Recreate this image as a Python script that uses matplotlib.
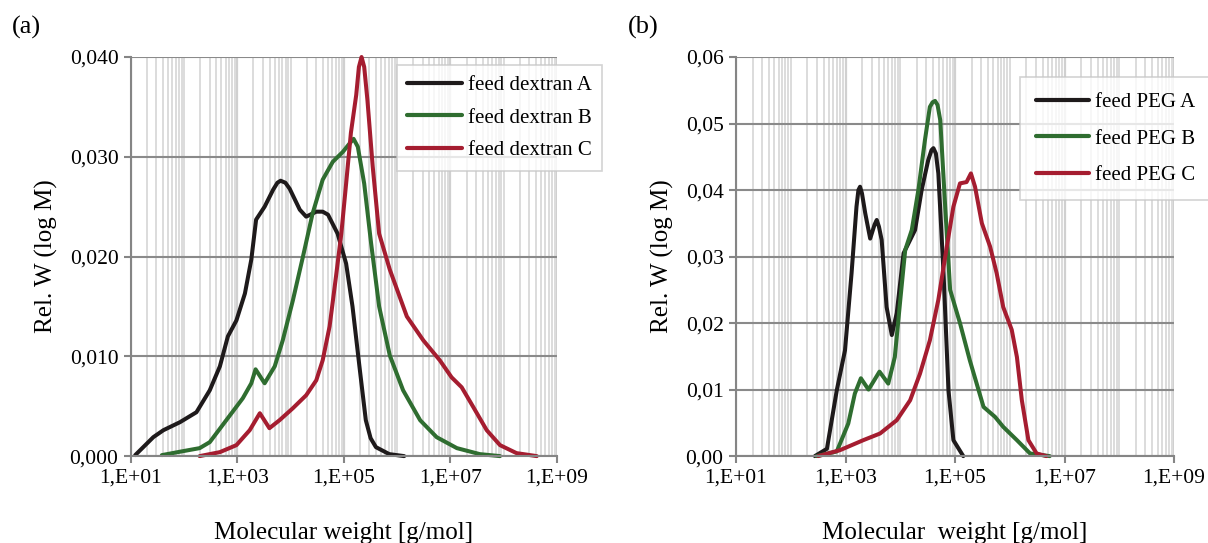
import numpy as np
import matplotlib
matplotlib.use("Agg")
import matplotlib.pyplot as plt
from matplotlib.ticker import LogLocator, FixedLocator, FuncFormatter, NullFormatter

plt.rcParams['font.family'] = ['Liberation Serif', 'DejaVu Serif']

# panel (a): dextran feeds, log10(M) and Rel. W
dexA_logm = [1.08, 1.42, 1.61, 1.92, 2.23, 2.48, 2.67, 2.82, 2.98, 3.14, 3.26, 3.35, 3.51, 3.67,
             3.75, 3.81, 3.90, 3.98, 4.17, 4.29, 4.48, 4.60, 4.70, 4.88, 5.04, 5.16, 5.29, 5.41,
             5.50, 5.60, 5.85, 6.13]
dexA_w = [0.0001, 0.0019, 0.0026, 0.0034, 0.0044, 0.0066, 0.0090, 0.0120, 0.0136, 0.0163, 0.0197,
          0.0237, 0.0250, 0.0267, 0.0274, 0.0276, 0.0274, 0.0268, 0.0247, 0.0240, 0.0245, 0.0245,
          0.0242, 0.0223, 0.0193, 0.0150, 0.0090, 0.0036, 0.0018, 0.0009, 0.0002, 0.0]

dexB_logm = [1.58, 1.98, 2.29, 2.48, 2.79, 3.10, 3.26, 3.34, 3.51, 3.70, 3.85, 4.04, 4.23, 4.41,
             4.60, 4.79, 4.98, 5.10, 5.18, 5.26, 5.38, 5.51, 5.66, 5.86, 6.11, 6.43, 6.74, 7.12,
             7.55, 7.93]
dexB_w = [0.0001, 0.0005, 0.0008, 0.0014, 0.0036, 0.0058, 0.0073, 0.0087, 0.0073, 0.0090, 0.0116,
          0.0156, 0.0200, 0.0243, 0.0277, 0.0295, 0.0305, 0.0313, 0.0318, 0.0310, 0.0273, 0.0213,
          0.0150, 0.0101, 0.0066, 0.0036, 0.0019, 0.0008, 0.0002, 0.0]

dexC_logm = [2.29, 2.67, 2.98, 3.23, 3.42, 3.60, 3.79, 4.04, 4.29, 4.48, 4.60, 4.73, 4.85, 4.95,
             5.04, 5.13, 5.23, 5.28, 5.33, 5.38, 5.44, 5.54, 5.66, 5.86, 6.18, 6.49, 6.80, 7.02,
             7.21, 7.43, 7.68, 7.93, 8.24, 8.62]
dexC_w = [0.0, 0.0004, 0.0011, 0.0026, 0.0043, 0.0028, 0.0036, 0.0048, 0.0061, 0.0076, 0.0096,
          0.0130, 0.0180, 0.0223, 0.0273, 0.0324, 0.0362, 0.0390, 0.0400, 0.0390, 0.0357, 0.0290,
          0.0223, 0.0187, 0.0140, 0.0116, 0.0096, 0.0079, 0.0069, 0.0049, 0.0026, 0.0011, 0.0003, 0.0]

# panel (b): PEG feeds
pegA_logm = [2.44, 2.66, 2.84, 2.99, 3.11, 3.20, 3.235, 3.265, 3.30, 3.36, 3.45, 3.53, 3.57,
             3.61, 3.66, 3.75, 3.845, 3.935, 4.06, 4.18, 4.27, 4.39, 4.51, 4.57, 4.605, 4.65,
             4.695, 4.79, 4.88, 4.97, 5.15]
pegA_w = [0.0, 0.0011, 0.0099, 0.0159, 0.0275, 0.0375, 0.0400, 0.0405, 0.0395, 0.0365, 0.0327,
          0.0348, 0.0355, 0.0345, 0.0325, 0.0224, 0.0182, 0.0215, 0.0305, 0.0325, 0.0340, 0.0400,
          0.0445, 0.0460, 0.0463, 0.0455, 0.0425, 0.0275, 0.0099, 0.0024, 0.0]

pegB_logm = [2.47, 2.84, 3.05, 3.17, 3.28, 3.42, 3.62, 3.78, 3.90, 4.00, 4.09, 4.21, 4.33, 4.45,
             4.54, 4.59, 4.635, 4.68, 4.73, 4.82, 4.91, 5.09, 5.27, 5.52, 5.73, 5.88, 6.13, 6.37,
             6.73]
pegB_w = [0.0, 0.0007, 0.0049, 0.0094, 0.0117, 0.0100, 0.0127, 0.0109, 0.0149, 0.0235, 0.0310,
          0.0340, 0.0400, 0.0475, 0.0525, 0.0532, 0.0534, 0.0528, 0.0505, 0.0375, 0.0250, 0.0200,
          0.0144, 0.0074, 0.0059, 0.0044, 0.0024, 0.0004, 0.0]

pegC_logm = [2.50, 2.90, 3.325, 3.63, 3.935, 4.18, 4.36, 4.54, 4.695, 4.85, 4.97, 5.09, 5.21,
             5.29, 5.365, 5.49, 5.64, 5.76, 5.88, 6.035, 6.13, 6.22, 6.34, 6.49, 6.67]
pegC_w = [0.0, 0.0009, 0.0024, 0.0034, 0.0054, 0.0084, 0.0124, 0.0174, 0.0235, 0.0315, 0.0375,
          0.0410, 0.0412, 0.0425, 0.0405, 0.0350, 0.0315, 0.0275, 0.0224, 0.0190, 0.0149, 0.0084,
          0.0024, 0.0004, 0.0]

colors = ['#1e1a1b', '#2f6d30', '#a51d30']


def style_axes(ax, ymax, ystep, ydigits):
    ax.set_xscale('log')
    ax.set_xlim(1e1, 1e9)
    ax.set_ylim(0, ymax)
    ax.xaxis.set_major_locator(FixedLocator([1e1, 1e3, 1e5, 1e7, 1e9]))
    ax.xaxis.set_minor_locator(LogLocator(base=10, subs=np.arange(1, 10), numticks=50))
    ax.xaxis.set_major_formatter(FuncFormatter(lambda v, p: '1,E+%02d' % round(np.log10(v))))
    ax.xaxis.set_minor_formatter(NullFormatter())
    ax.set_yticks(np.arange(0, ymax + ystep / 2, ystep))
    ax.yaxis.set_major_formatter(FuncFormatter(
        lambda v, p: ('%.*f' % (ydigits, v)).replace('.', ',')))
    ax.grid(True, which='minor', axis='x', color='#d9d9d9', lw=1.3)
    ax.grid(True, which='major', axis='x', color='#d0d0d0', lw=1.6)
    ax.grid(True, which='major', axis='y', color='#8a8a8a', lw=1.5)
    ax.set_axisbelow(True)
    for s in ['top', 'right']:
        ax.spines[s].set_visible(False)
    for s in ['left', 'bottom']:
        ax.spines[s].set_color('#858585')
        ax.spines[s].set_linewidth(1.5)
    ax.tick_params(which='major', length=5, width=1.5, color='#858585', labelsize=15.5, pad=4)
    ax.tick_params(which='minor', length=0)


fig = plt.figure(figsize=(12.08, 5.43), dpi=100)
ax1 = fig.add_axes([0.1084, 0.160, 0.3527, 0.735])
ax2 = fig.add_axes([0.6093, 0.160, 0.3626, 0.735])

style_axes(ax1, 0.040, 0.010, 3)
style_axes(ax2, 0.06, 0.01, 2)

for lm, w, c, lab in [(dexA_logm, dexA_w, colors[0], 'feed dextran A'),
                      (dexB_logm, dexB_w, colors[1], 'feed dextran B'),
                      (dexC_logm, dexC_w, colors[2], 'feed dextran C')]:
    ax1.plot(10 ** np.array(lm), w, color=c, lw=2.9, label=lab,
             solid_joinstyle='round', solid_capstyle='round', clip_on=False)

for lm, w, c, lab in [(pegA_logm, pegA_w, colors[0], 'feed PEG A'),
                      (pegB_logm, pegB_w, colors[1], 'feed PEG B'),
                      (pegC_logm, pegC_w, colors[2], 'feed PEG C')]:
    ax2.plot(10 ** np.array(lm), w, color=c, lw=2.9, label=lab,
             solid_joinstyle='round', solid_capstyle='round', clip_on=False)

for ax in [ax1, ax2]:
    ax.set_ylabel('Rel. W (log M)', fontsize=18, labelpad=8)
ax1.set_xlabel('Molecular weight [g/mol]', fontsize=18, labelpad=25)
ax2.set_xlabel('Molecular  weight [g/mol]', fontsize=18, labelpad=25)

leg1 = ax1.legend(loc='upper left', bbox_to_anchor=(0.3286, 0.880), bbox_transform=fig.transFigure,
                  fontsize=15, frameon=True, fancybox=False, edgecolor='#c8c8c8',
                  borderaxespad=0, handlelength=2.6, labelspacing=0.62, borderpad=0.5,
                  handletextpad=0.3)
leg2 = ax2.legend(loc='upper left', bbox_to_anchor=(0.8444, 0.858), bbox_transform=fig.transFigure,
                  fontsize=15, frameon=True, fancybox=False, edgecolor='#c8c8c8',
                  borderaxespad=0, handlelength=2.55, labelspacing=0.8, borderpad=0.75,
                  handletextpad=0.3)
for leg in [leg1, leg2]:
    leg.get_frame().set_linewidth(1.2)
    for h in leg.get_lines():
        h.set_linewidth(3)

fig.text(0.010, 0.950, '(a)', fontsize=19, va='center', ha='left')
fig.text(0.520, 0.950, '(b)', fontsize=19, va='center', ha='left')

fig.savefig('out.png', dpi=100)
